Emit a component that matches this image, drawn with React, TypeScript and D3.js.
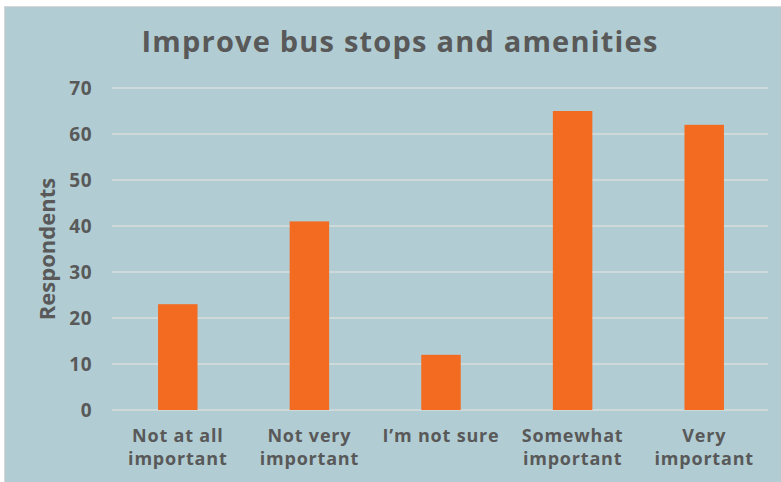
import React from "react";
import * as d3 from "d3";

const categories: string[][] = [
  ["Not at all", "important"],
  ["Not very", "important"],
  ["I\u2019m not sure"],
  ["Somewhat", "important"],
  ["Very", "important"],
];
const values: number[] = [23, 41, 12, 65, 62];
const yTicks: number[] = [0, 10, 20, 30, 40, 50, 60, 70];
const title = "Improve bus stops and amenities";
const yTitle = "Respondents";

const W = 781;
const H = 482;
const plot = { left: 112, right: 770, top: 88, bottom: 410 };
const TEXT = "#595959";
const FONT = "'Open Sans', sans-serif";

export default function App() {
  const x = d3
    .scaleBand<number>()
    .domain(values.map((_, i) => i))
    .range([plot.left, plot.right])
    .paddingInner(0.7)
    .paddingOuter(0.35);
  const y = d3.scaleLinear().domain([0, 70]).range([plot.bottom, plot.top]);

  return (
    <div style={{ position: "absolute", left: 0, top: 0 }}>
      <svg width={W} height={H} style={{ display: "block" }}>
        <rect x={0} y={0} width={W} height={H} fill="#ffffff" />
        <rect x={4} y={6} width={W - 4} height={H - 6} fill="#d6d6d6" />
        <rect x={5} y={7} width={W - 5} height={H - 7} fill="#b1cdd3" />
        <text
          x={400}
          y={52}
          textAnchor="middle"
          fontFamily={FONT}
          fontWeight={700}
          fontSize={29}
          letterSpacing={1.2}
          fill={TEXT}
        >
          {title}
        </text>
        {yTicks.map((t) => (
          <g key={t}>
            <line
              x1={plot.left}
              x2={plot.right - 2}
              y1={y(t)}
              y2={y(t)}
              stroke="#d9dcdc"
              strokeWidth={1.5}
            />
            <text
              x={92}
              y={y(t)}
              dy="0.36em"
              textAnchor="end"
              fontFamily={FONT}
              fontWeight={700}
              fontSize={19}
              letterSpacing={0.5}
              fill={TEXT}
            >
              {t}
            </text>
          </g>
        ))}
        {values.map((v, i) => (
          <rect
            key={i}
            x={x(i)}
            y={y(v)}
            width={x.bandwidth()}
            height={y(0) - y(v)}
            fill="#f26b21"
          />
        ))}
        {categories.map((lines, i) =>
          lines.map((l, j) => (
            <text
              key={`${i}-${j}`}
              x={(x(i) as number) + x.bandwidth() / 2}
              y={442 + j * 23}
              textAnchor="middle"
              fontFamily={FONT}
              fontWeight={700}
              fontSize={18}
              letterSpacing={0.8}
              fill={TEXT}
            >
              {l}
            </text>
          ))
        )}
        <text
          transform={`translate(55, 249) rotate(-90)`}
          textAnchor="middle"
          fontFamily={FONT}
          fontWeight={700}
          fontSize={22}
          fill={TEXT}
        >
          {yTitle}
        </text>
      </svg>
    </div>
  );
}
